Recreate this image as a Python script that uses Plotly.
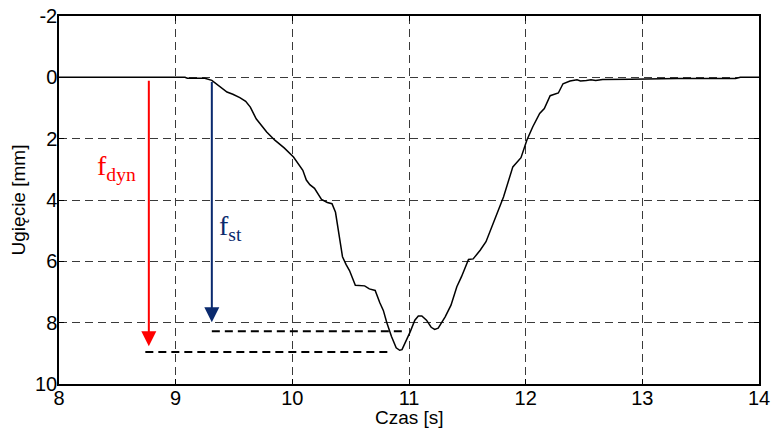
import plotly.graph_objects as go

# --- data ---
czas = [8.0, 9.08, 9.1, 9.25, 9.31, 9.38, 9.44, 9.49, 9.55, 9.6, 9.64, 9.69, 9.74, 9.78,
        9.85, 9.93, 10.01, 10.06, 10.09, 10.12, 10.15, 10.19, 10.22, 10.25, 10.3, 10.34,
        10.37, 10.39, 10.41, 10.43, 10.46, 10.49, 10.54, 10.58, 10.62, 10.66, 10.71, 10.75,
        10.78, 10.81, 10.85, 10.89, 10.92, 10.94, 10.96, 11.01, 11.05, 11.08, 11.11, 11.15,
        11.19, 11.22, 11.25, 11.31, 11.36, 11.41, 11.45, 11.51, 11.55, 11.61, 11.66, 11.72,
        11.81, 11.89, 11.93, 11.96, 12.01, 12.06, 12.12, 12.16, 12.21, 12.28, 12.32, 12.38,
        12.44, 12.47, 12.52, 12.56, 12.6, 12.66, 12.9, 13.3, 13.8, 13.84, 14.0]
ugiecie = [0, 0, 0.03, 0.03, 0.1, 0.3, 0.48, 0.55, 0.66, 0.78, 0.97, 1.35, 1.6, 1.78,
           2.05, 2.3, 2.6, 2.85, 3.03, 3.35, 3.5, 3.62, 3.8, 3.98, 4.08, 4.12,
           4.4, 4.9, 5.45, 5.85, 6.1, 6.3, 6.78, 6.78, 6.8, 6.9, 6.95, 7.35,
           7.6, 8.0, 8.45, 8.82, 8.9, 8.88, 8.72, 8.3, 7.92, 7.78, 7.78, 7.92,
           8.15, 8.22, 8.18, 7.81, 7.43, 6.83, 6.5, 5.94, 5.92, 5.64, 5.36, 4.77,
           3.9, 2.92, 2.75, 2.62, 2.05, 1.62, 1.18, 1.02, 0.6, 0.51, 0.21, 0.12,
           0.08, 0.12, 0.1, 0.08, 0.1, 0.07, 0.06, 0.04, 0.04, 0.0, 0.0]

# reference (dashed) levels
st_level_x = [9.31, 10.95]
st_level_y = [8.28, 8.28]
dyn_level_x = [8.74, 10.85]
dyn_level_y = [8.96, 8.96]

# arrows: x position, start, end
dyn_arrow = dict(x=8.77, y0=0.06, y1=8.77)
st_arrow = dict(x=9.31, y0=0.1, y1=7.99)

x_ticks = [8, 9, 10, 11, 12, 13, 14]
y_ticks = [-2, 0, 2, 4, 6, 8, 10]

RED = "#ff0000"
NAVY = "#0a2a6e"
SANS = "Liberation Sans, Arial, sans-serif"
SERIF = "Liberation Serif, Times New Roman, serif"

fig = go.Figure()
fig.add_trace(go.Scatter(x=czas, y=ugiecie, mode="lines",
                         line=dict(color="black", width=1.5), showlegend=False))
fig.add_trace(go.Scatter(x=st_level_x, y=st_level_y, mode="lines",
                         line=dict(color="black", width=2, dash="8px,5px"), showlegend=False))
fig.add_trace(go.Scatter(x=dyn_level_x, y=dyn_level_y, mode="lines",
                         line=dict(color="black", width=2, dash="8px,5px"), showlegend=False))

for arr, col in [(dyn_arrow, RED), (st_arrow, NAVY)]:
    fig.add_annotation(x=arr["x"], y=arr["y1"], ax=arr["x"], ay=arr["y0"],
                       xref="x", yref="y", axref="x", ayref="y",
                       text="", showarrow=True, arrowhead=2, arrowsize=1.5,
                       arrowwidth=2, arrowcolor=col, standoff=0)

fig.add_annotation(x=8.31, y=2.95, xref="x", yref="y", text="f<sub>dyn</sub>",
                   showarrow=False, xanchor="left", yanchor="middle",
                   font=dict(family=SERIF, size=28, color=RED))
fig.add_annotation(x=9.35, y=4.9, xref="x", yref="y", text="f<sub>st</sub>",
                   showarrow=False, xanchor="left", yanchor="middle",
                   font=dict(family=SERIF, size=28, color=NAVY))

# x-axis title as a paper annotation (keeps fixed plot margins)
fig.add_annotation(x=0.5, y=0, xref="paper", yref="paper", text="Czas [s]",
                   showarrow=False, xanchor="center", yanchor="top", yshift=-21,
                   font=dict(family=SANS, size=19, color="black"))

axis_common = dict(showline=True, linecolor="black", linewidth=1.5, mirror="allticks",
                   ticks="inside", ticklen=5, tickcolor="black", tickwidth=1,
                   showgrid=True, gridcolor="#3a3a3a", gridwidth=1, griddash="8px,5px",
                   zeroline=False, automargin=False,
                   tickfont=dict(family=SANS, size=20, color="black"))

fig.update_xaxes(range=[8, 14], tickvals=x_ticks, ticktext=[str(v) for v in x_ticks],
                 ticklabelstandoff=-5, **axis_common)
fig.update_yaxes(range=[10, -2], tickvals=y_ticks, ticktext=[str(v) for v in y_ticks],
                 ticklabelstandoff=-4,
                 title=dict(text="Ugięcie [mm]", standoff=4,
                            font=dict(family=SANS, size=19, color="black")),
                 **axis_common)

fig.update_layout(width=775, height=432, margin=dict(l=59, r=16, t=16, b=48),
                  plot_bgcolor="white", paper_bgcolor="white", showlegend=False)

fig.write_html("out.html")
